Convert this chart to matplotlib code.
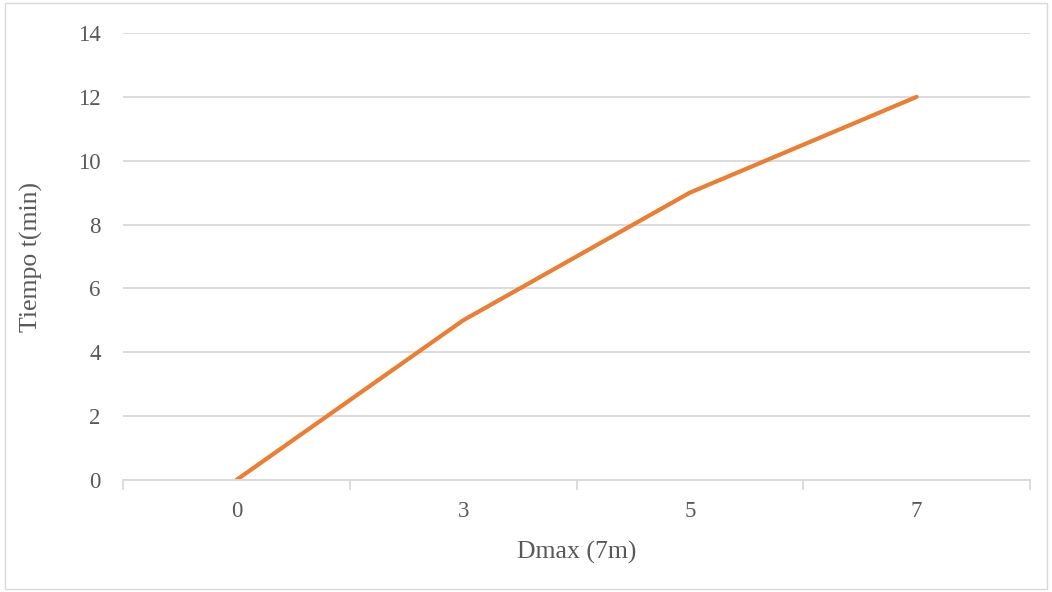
import matplotlib.pyplot as plt
from matplotlib.patches import Rectangle

categories = ['0', '3', '5', '7']
tiempo = [0, 5, 9, 12]
y_ticks = [0, 2, 4, 6, 8, 10, 12, 14]

plt.rcParams['font.family'] = ['Liberation Serif', 'DejaVu Serif']

fig = plt.figure(figsize=(10.52, 5.92), dpi=100)
ax = fig.add_axes([123 / 1052, 1 - 480 / 592, (1030 - 123) / 1052, (480 - 33) / 592])

x = list(range(len(categories)))
ax.plot(x, tiempo, color='#ED7D31', linewidth=3, solid_capstyle='round')

ax.set_xlim(-0.5, len(categories) - 0.5)
ax.set_ylim(0, 14)
ax.set_yticks(y_ticks)
ax.set_xticks(x)
ax.set_xticklabels(categories)
# tick marks sit between categories, like excel
ax.set_xticks([i - 0.5 for i in range(len(categories) + 1)], minor=True)
ax.tick_params(axis='x', which='major', length=0, pad=15, labelsize=16.5, labelcolor='#595959')
ax.tick_params(axis='x', which='minor', length=7, width=1.3, color='#D9D9D9')
ax.tick_params(axis='y', length=0, pad=16, labelsize=16.5, labelcolor='#595959')

ax.grid(axis='y', color='#D9D9D9', linewidth=1.3)
ax.set_axisbelow(True)
for s in ['top', 'right', 'left']:
    ax.spines[s].set_visible(False)
ax.spines['bottom'].set_color('#D9D9D9')
ax.spines['bottom'].set_linewidth(1.3)

ax.set_xlabel('Dmax (7m)', fontsize=18.5, color='#595959', labelpad=14)
ax.set_ylabel('Tiempo t(min)', fontsize=18.5, color='#595959', labelpad=25)

# light border round the chart area
fig.patches.append(Rectangle((5 / 1052, 3 / 592), 1042 / 1052, 586 / 592, transform=fig.transFigure,
                             fill=False, edgecolor='#D9D9D9', linewidth=1))

fig.savefig('out.png', dpi=100)
